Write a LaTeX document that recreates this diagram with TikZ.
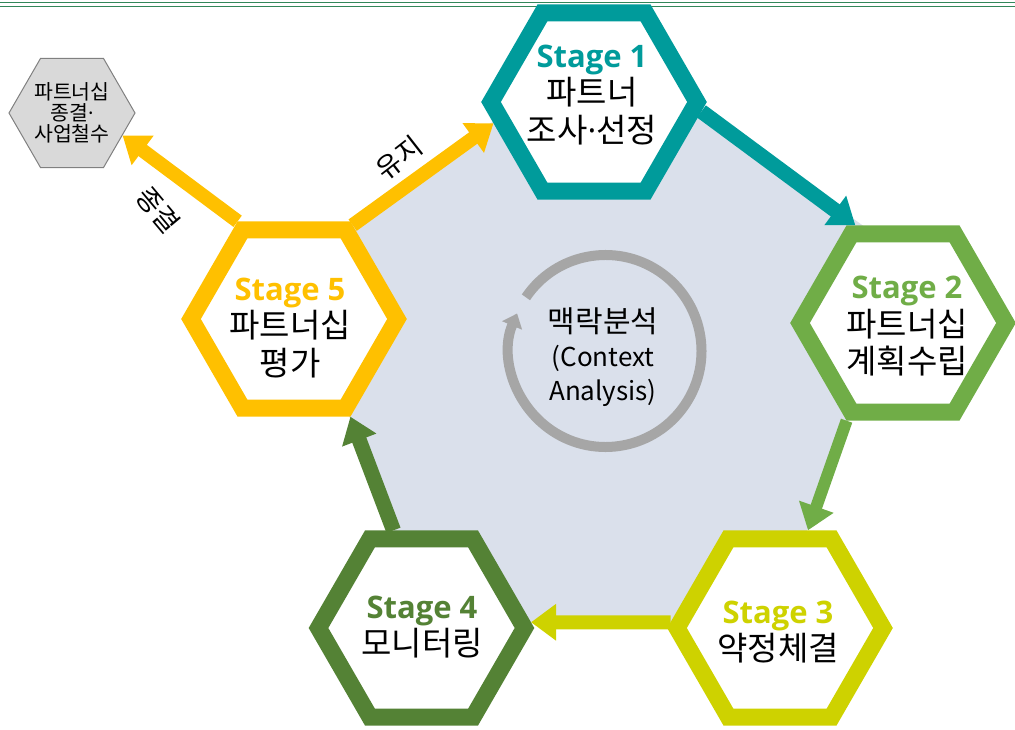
\documentclass[tikz,border=0pt]{standalone}
\usepackage{fontspec}
\setmainfont{Noto Sans CJK KR}
\newfontfamily\stagefont{Open Sans}
\usetikzlibrary{shapes.geometric,arrows.meta}
\definecolor{cteal}{RGB}{0,155,155}
\definecolor{cgreen}{RGB}{112,173,71}
\definecolor{cyell}{RGB}{206,210,0}
\definecolor{cdark}{RGB}{84,130,53}
\definecolor{cgold}{RGB}{255,192,0}
\definecolor{cbg}{RGB}{218,224,235}
\definecolor{cring}{RGB}{166,166,166}
\definecolor{cgfill}{RGB}{217,217,217}
\definecolor{cgline}{RGB}{128,128,128}
\definecolor{cline}{RGB}{50,135,90}
\tikzset{
  hexa/.style={regular polygon, regular polygon sides=6, minimum size=206pt,
    inner sep=0pt, line width=17pt, fill=white, line join=miter, draw=#1},
  stagetext/.style={align=center, inner sep=0pt, font=\fontsize{33}{37.5}\selectfont},
  flowarrow/.style={line width=#1, -{Triangle[width=35pt,length=25pt]}},
  lab/.style={inner sep=0pt, font=\fontsize{27}{27}\selectfont},
  ringst/.style={draw=cring, line width=10pt, -{Triangle[width=21pt,length=13pt]}},
}
\newcommand{\stg}[2]{{\stagefont\bfseries\fontsize{31}{37.5}\selectfont\color{#1}#2}}
\newcommand{\mdot}{{\stagefont\mdseries\char"00B7}}
\begin{document}
\begin{tikzpicture}[x=1pt,y=-1pt]
\useasboundingbox (0,0) rectangle (1015,730);
% top rules
\draw[cline, line width=1.2pt] (0,2.6) -- (1015,2.6);
\draw[cline, line width=1.5pt] (0,6.3) -- (1015,6.3);
% background pentagon
\fill[cbg] (604.5,39.7) -- (908,258) -- (773,622) -- (430,622) -- (291.4,269.4) -- cycle;
% context ring
\coordinate (rc) at (605.5,351);
\draw[ringst] (rc) ++(-146:96) arc[start angle=-146, end angle=203, radius=96];
\node[align=center, inner sep=0pt, font=\fontsize{26}{34}\selectfont] (ctx) at (603,357)
  {{\fontsize{30}{34}\selectfont 맥락분석}\\(Context\\Analysis)};
% stage hexagons
\node[hexa=cteal] (s1) at (594,102) {};
\node[hexa=cgreen] (s2) at (903,323) {};
\node[hexa=cyell] (s3) at (780,628) {};
\node[hexa=cdark] (s4) at (421.5,628) {};
\node[hexa=cgold] (s5) at (294,319) {};
% exit hexagon
\node[regular polygon, regular polygon sides=6, minimum size=126pt, inner sep=0pt,
  draw=cgline, fill=cgfill, line width=1pt] (sm) at (72,113) {};
\node[align=center, inner sep=0pt, font=\fontsize{20.5}{21}\selectfont] (smt) at (72,113)
  {파트너십\\종결\mdot\\사업철수};
% stage texts
\node[stagetext] (t1) at (592,95) {\stg{cteal}{Stage 1}\\파트너\\조사\mdot 선정};
\node[stagetext] (t2) at (907,326.5) {\stg{cgreen}{Stage 2}\\파트너십\\계획수립};
\node[stagetext] (t3) at (778,632) {\stg{cyell}{Stage 3}\\약정체결};
\node[stagetext] (t4) at (422,627) {\stg{cdark}{Stage 4}\\모니터링};
\node[stagetext] (t5) at (290,328) {\stg{cgold}{Stage 5}\\파트너십\\평가};
% flow arrows
\draw[flowarrow=15pt, cteal] (s1.-5) -- (s2.116);
\draw[flowarrow=12pt, cgreen] (s2.-120) -- (s3.74);
\draw[flowarrow=14pt, cyell] (s3.177) -- (s4.3);
\draw[flowarrow=15pt, cdark] (s4.106) -- (s5.-60);
\draw[flowarrow=14pt, cgold] (s5.58) -- (s1.-168);
\draw[flowarrow=14pt, cgold] (s5.120) -- (sm.-24);
% arrow labels
\node[lab, rotate=38] (l1) at (399,158) {유지};
\node[lab, rotate=-50] (l2) at (158,210) {종결};
\end{tikzpicture}
\end{document}
